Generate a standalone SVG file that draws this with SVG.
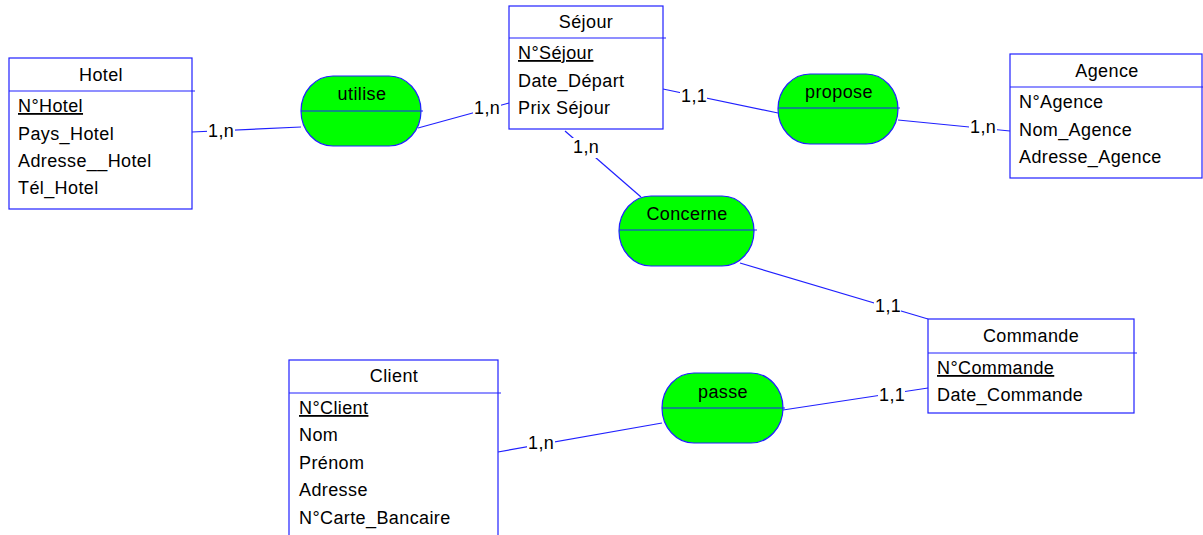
<svg xmlns="http://www.w3.org/2000/svg" width="1203" height="535" viewBox="0 0 1203 535">
<style>
text{font-family:"Liberation Sans",Arial,sans-serif;font-size:18px;letter-spacing:0.4px;fill:#000}
.ent{fill:#fff;stroke:#2020ff;stroke-width:1.2}
.sep{stroke:#2020ff;stroke-width:1.2}
.rel{fill:#00ff00;stroke:#2020ff;stroke-width:1.2}
.c{text-anchor:middle}
.u{text-decoration:underline}
.lnk{stroke:#2020ff;stroke-width:1.2;fill:none}
.bg{fill:#fff}
</style>
<rect width="1203" height="535" fill="#fff"/>
<g id="connectors">
<line class="lnk" x1="192" y1="132" x2="301" y2="127"/>
<line class="lnk" x1="418" y1="128" x2="509" y2="103"/>
<line class="lnk" x1="663" y1="89" x2="778" y2="113"/>
<line class="lnk" x1="898" y1="120" x2="1010" y2="131"/>
<line class="lnk" x1="565" y1="131" x2="641" y2="197"/>
<line class="lnk" x1="740" y1="263" x2="928" y2="319"/>
<line class="lnk" x1="783" y1="410" x2="928" y2="388"/>
<line class="lnk" x1="498" y1="452" x2="662" y2="423"/>
<rect class="bg" x="207" y="122" width="28" height="19"/>
<rect class="bg" x="473" y="99" width="28" height="19"/>
<rect class="bg" x="680" y="87" width="27" height="19"/>
<rect class="bg" x="969" y="118" width="28" height="19"/>
<rect class="bg" x="572" y="138" width="28" height="20"/>
<rect class="bg" x="874" y="297" width="27" height="19"/>
<rect class="bg" x="878" y="386" width="27" height="19"/>
<rect class="bg" x="527" y="434" width="28" height="19"/>
<text x="208" y="137">1,n</text>
<text x="474" y="114">1,n</text>
<text x="681" y="102">1,1</text>
<text x="970" y="133">1,n</text>
<text x="573" y="153">1,n</text>
<text x="875" y="312">1,1</text>
<text x="879" y="401">1,1</text>
<text x="528" y="449">1,n</text>
</g>
<g id="Hotel">
<rect class="ent" x="9" y="58" width="183" height="151"/>
<line class="sep" x1="9" y1="91" x2="195" y2="91"/>
<text class="c" x="101" y="81">Hotel</text>
<text class="u" x="18" y="112">N°Hotel</text>
<text x="18" y="140">Pays_Hotel</text>
<text x="18" y="167">Adresse__Hotel</text>
<text x="18" y="194">Tél_Hotel</text>
</g>
<g id="Sejour">
<rect class="ent" x="509" y="6" width="154" height="123"/>
<line class="sep" x1="509" y1="38" x2="666" y2="38"/>
<text class="c" x="586" y="28">Séjour</text>
<text class="u" x="518" y="59">N°Séjour</text>
<text x="518" y="87">Date_Départ</text>
<text x="518" y="114">Prix Séjour</text>
</g>
<g id="Agence">
<rect class="ent" x="1010" y="54" width="192" height="124"/>
<line class="sep" x1="1010" y1="87" x2="1203" y2="87"/>
<text class="c" x="1107" y="77">Agence</text>
<text x="1019" y="108">N°Agence</text>
<text x="1019" y="136">Nom_Agence</text>
<text x="1019" y="163">Adresse_Agence</text>
</g>
<g id="Commande">
<rect class="ent" x="928" y="319" width="206" height="94"/>
<line class="sep" x1="928" y1="353" x2="1137" y2="353"/>
<text class="c" x="1031" y="342">Commande</text>
<text class="u" x="937" y="374">N°Commande</text>
<text x="937" y="401">Date_Commande</text>
</g>
<g id="Client">
<rect class="ent" x="289" y="360" width="209" height="185"/>
<line class="sep" x1="289" y1="393" x2="501" y2="393"/>
<text class="c" x="394" y="382">Client</text>
<text class="u" x="299" y="414">N°Client</text>
<text x="299" y="441">Nom</text>
<text x="299" y="469">Prénom</text>
<text x="299" y="496">Adresse</text>
<text x="299" y="524">N°Carte_Bancaire</text>
</g>
<g id="utilise">
<rect class="rel" x="301" y="76" width="120" height="70" rx="32" ry="35"/>
<line class="sep" x1="301" y1="111" x2="423" y2="111"/>
<text class="c" x="362" y="100">utilise</text>
</g>
<g id="propose">
<rect class="rel" x="778" y="74" width="120" height="70" rx="32" ry="35"/>
<line class="sep" x1="778" y1="108" x2="900" y2="108"/>
<text class="c" x="839" y="98">propose</text>
</g>
<g id="Concerne">
<rect class="rel" x="619" y="196" width="135" height="70" rx="32" ry="35"/>
<line class="sep" x1="619" y1="230" x2="757" y2="230"/>
<text class="c" x="687" y="220">Concerne</text>
</g>
<g id="passe">
<rect class="rel" x="662" y="373" width="121" height="70" rx="32" ry="35"/>
<line class="sep" x1="662" y1="408" x2="785" y2="408"/>
<text class="c" x="723" y="398">passe</text>
</g>
</svg>
